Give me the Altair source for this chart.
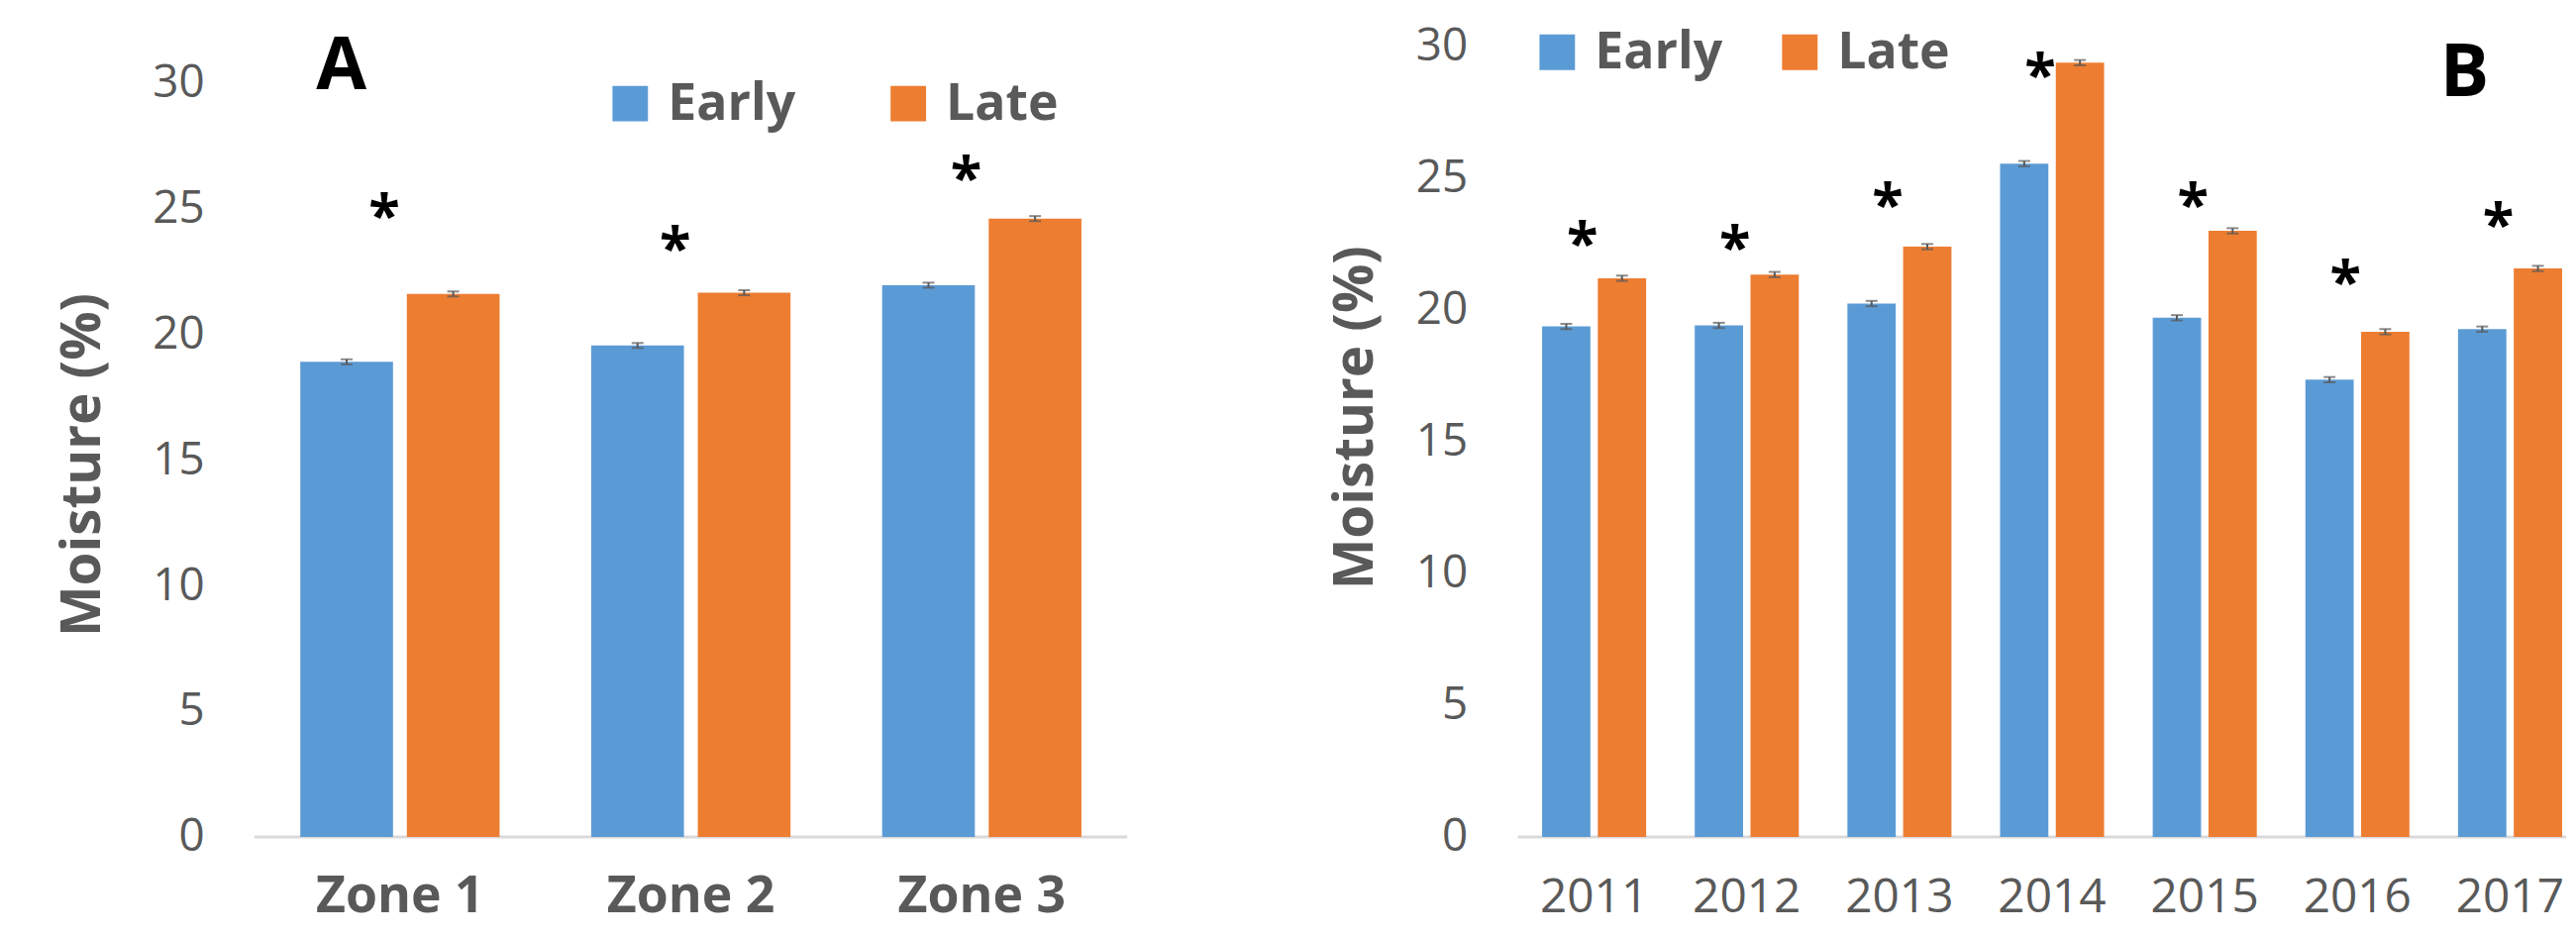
import altair as alt
import pandas as pd

# ---- data ----
series = ["Early", "Late"]

zones = ["Zone 1", "Zone 2", "Zone 3"]
zone_early = [18.9, 19.55, 21.95]
zone_late = [21.6, 21.65, 24.6]
zone_err_early = [0.1, 0.1, 0.1]
zone_err_late = [0.1, 0.1, 0.1]
zone_star = [25.2, 23.9, 26.7]

years = [2011, 2012, 2013, 2014, 2015, 2016, 2017]
year_early = [19.37, 19.41, 20.24, 25.55, 19.7, 17.35, 19.27]
year_late = [21.2, 21.34, 22.4, 29.38, 23.0, 19.17, 21.57]
year_err_early = [0.1, 0.1, 0.1, 0.1, 0.1, 0.1, 0.1]
year_err_late = [0.1, 0.1, 0.1, 0.1, 0.1, 0.1, 0.1]
year_star = [23.0, 22.85, 24.45, 29.4, 24.45, 21.53, 23.72]

y_ticks = [0, 5, 10, 15, 20, 25, 30]

GREY = "#595959"
FONT = "Open Sans"
color_scale = alt.Scale(domain=series, range=["#5B9BD5", "#ED7D31"])

H = 893          # plot height (extends below the zero line to hold the labels)
WA, WB = 885, 1063


def make_df(cats, early, late, e_err, l_err):
    df = pd.DataFrame({
        "Cat": list(cats) * 2,
        "Series": ["Early"] * len(cats) + ["Late"] * len(cats),
        "Moisture": list(early) + list(late),
        "Err": list(e_err) + list(l_err),
    })
    df["lo"] = df["Moisture"] - df["Err"]
    df["hi"] = df["Moisture"] + df["Err"]
    return df


dfA = make_df(zones, zone_early, zone_late, zone_err_early, zone_err_late)
dfB = make_df(years, year_early, year_late, year_err_early, year_err_late)
starA = pd.DataFrame({"Cat": zones, "star": zone_star, "t": ["*"] * len(zones)})
starB = pd.DataFrame({"Cat": years, "star": year_star, "t": ["*"] * len(years)})
labA = pd.DataFrame({"Cat": zones, "lab": zones})
labB = pd.DataFrame({"Cat": years, "lab": [str(v) for v in years]})
base_df = pd.DataFrame({"base": [0]})


def yaxis(label_pad, title_pad, title_y):
    return alt.Axis(values=y_ticks, title="Moisture (%)", grid=False, ticks=False,
                    domain=False, labelFont=FONT, labelFontSize=46,
                    labelColor=GREY, labelPadding=label_pad,
                    titleFont=FONT, titleFontWeight="bold", titleFontSize=55,
                    titleColor=GREY, titlePadding=title_pad, titleY=title_y)


def legend(lx, ly, colpad):
    return alt.Legend(orient="none", legendX=lx, legendY=ly, direction="horizontal",
                      title=None, symbolType="square", symbolSize=1296,
                      symbolStrokeWidth=0, symbolOpacity=1, labelFont=FONT,
                      labelFontWeight="bold", labelFontSize=52, labelColor=GREY,
                      labelOffset=12, columnPadding=colpad, padding=0)


def star_layer(df, x, yscale, dx):
    return alt.Chart(df).mark_text(
        font=FONT, fontWeight="bold", fontSize=58, color="black",
        dx=dx, dy=16, clip=True).encode(
        x=x, y=alt.Y("star:Q", scale=yscale), text="t:N")


def letter_layer(letter, xy):
    return alt.Chart(pd.DataFrame({"t": [letter]})).mark_text(
        font=FONT, fontWeight="bold", fontSize=74, color="black",
        baseline="middle", align="center").encode(
        x=alt.value(xy[0]), y=alt.value(xy[1]), text="t:N")


# ---------------- panel A (zones) ----------------
yA = alt.Scale(domain=[-3.59, 31.452], nice=False, zero=False)
xA = alt.X("Cat:N", sort=zones, scale=alt.Scale(paddingInner=0, paddingOuter=0),
           axis=None)
xoA = alt.XOffset("Series:N", sort=series,
                  scale=alt.Scale(paddingInner=0.13, paddingOuter=0.43))

baseA = alt.Chart(base_df).mark_rule(color="#D9D9D9", strokeWidth=3).encode(
    y=alt.Y("base:Q", scale=yA, axis=yaxis(51, 41, 424)))
barsA = alt.Chart(dfA).mark_bar().encode(
    x=xA, xOffset=xoA, y=alt.Y("Moisture:Q", scale=yA), y2=alt.datum(0),
    color=alt.Color("Series:N", scale=color_scale, legend=legend(355, 32, 88)))
errA = alt.Chart(dfA).mark_rule(color=GREY, strokeWidth=2).encode(
    x=xA, xOffset=xoA, y=alt.Y("lo:Q", scale=yA), y2="hi:Q")
capA1 = alt.Chart(dfA).mark_tick(color=GREY, size=12, thickness=2).encode(
    x=xA, xOffset=xoA, y=alt.Y("lo:Q", scale=yA))
capA2 = alt.Chart(dfA).mark_tick(color=GREY, size=12, thickness=2).encode(
    x=xA, xOffset=xoA, y=alt.Y("hi:Q", scale=yA))
labelsA = alt.Chart(labA).mark_text(
    font=FONT, fontWeight="bold", fontSize=52, color=GREY, baseline="alphabetic",
    clip=True).encode(x=xA, y=alt.value(878), text="lab:N")
chartA = alt.layer(baseA, barsA, errA, capA1, capA2,
                   star_layer(starA, xA, yA, -16), labelsA,
                   letter_layer("A", (88, 21))).properties(width=WA, height=H)

# ---------------- panel B (years) ----------------
yB = alt.Scale(domain=[-3.425, 30.0], nice=False, zero=False)
xBs = alt.Scale(domain=[2010.5, 2017.367], nice=False, zero=False)
calc = dict(
    x0="datum.Cat + (datum.Series === 'Early' ? -0.3408 : 0.0243)",
    x1="datum.Cat + (datum.Series === 'Early' ? -0.0243 : 0.3408)",
    xc="datum.Cat + (datum.Series === 'Early' ? -0.1825 : 0.1825)",
    zero="0",
)

baseB = alt.Chart(base_df).mark_rule(color="#D9D9D9", strokeWidth=3).encode(
    y=alt.Y("base:Q", scale=yB, axis=yaxis(51, 32, 376)))
barsB = alt.Chart(dfB).transform_calculate(**calc).mark_rect().encode(
    x=alt.X("x0:Q", scale=xBs, axis=None), x2="x1:Q",
    y=alt.Y("Moisture:Q", scale=yB), y2="zero:Q",
    color=alt.Color("Series:N", scale=color_scale, legend=legend(14, -20, 52)))
errB = alt.Chart(dfB).transform_calculate(**calc).mark_rule(
    color=GREY, strokeWidth=2).encode(
    x=alt.X("xc:Q", scale=xBs), y=alt.Y("lo:Q", scale=yB), y2="hi:Q")
capB1 = alt.Chart(dfB).transform_calculate(**calc).mark_tick(
    color=GREY, size=12, thickness=2, orient="horizontal").encode(
    x=alt.X("xc:Q", scale=xBs), y=alt.Y("lo:Q", scale=yB))
capB2 = alt.Chart(dfB).transform_calculate(**calc).mark_tick(
    color=GREY, size=12, thickness=2, orient="horizontal").encode(
    x=alt.X("xc:Q", scale=xBs), y=alt.Y("hi:Q", scale=yB))
xBc = alt.X("Cat:Q", scale=xBs)
labelsB = alt.Chart(labB).mark_text(
    font=FONT, fontSize=48, color=GREY, baseline="alphabetic",
    clip=True).encode(x=xBc, y=alt.value(878), text="lab:N")
chartB = alt.layer(baseB, barsB, errB, capB1, capB2,
                   star_layer(starB, xBc, yB, -12), labelsB,
                   letter_layer("B", (960, 28))).properties(width=WB, height=H)

chart = alt.hconcat(chartA, chartB, spacing=396, bounds="flush").resolve_scale(
    color="independent").resolve_legend(color="independent").configure_view(
    stroke=None).properties(
    padding={"left": 49, "top": 14, "right": 0, "bottom": 0})

chart.save("out.html", embed_options={"renderer": "svg", "actions": False})
